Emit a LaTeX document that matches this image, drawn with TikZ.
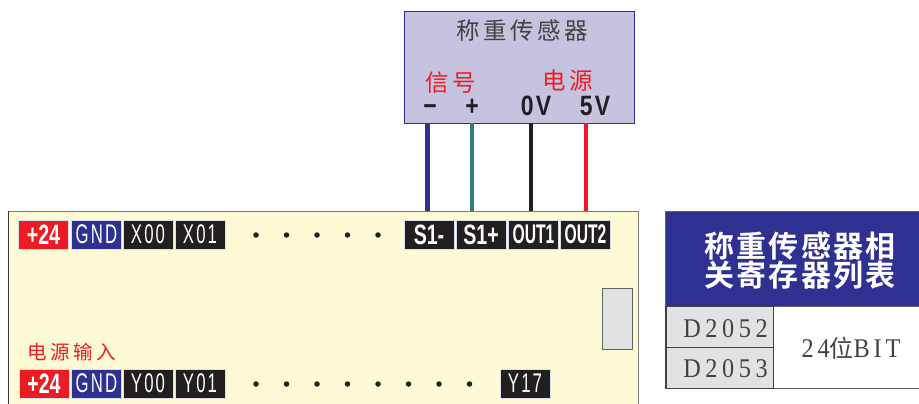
\documentclass[tikz,border=0pt]{standalone}
\usepackage{fontspec}
\setmainfont{Liberation Sans}
\newfontfamily\cjk{Noto Sans CJK SC}
\newfontfamily\cjkl[LetterSpace=15]{Noto Sans CJK SC}
\newfontfamily\cjkb[LetterSpace=8]{Noto Sans CJK SC Bold}
\newfontfamily\narrow[FakeStretch=0.62,LetterSpace=8]{Liberation Sans}
\newfontfamily\narrowb[FakeStretch=0.7]{Liberation Sans Bold}
\newfontfamily\narrowo[FakeStretch=0.58]{Liberation Sans Bold}
\newfontfamily\wideb[FakeStretch=0.82,LetterSpace=8]{Liberation Sans Bold}
\newfontfamily\serifs[FakeStretch=0.9,LetterSpace=14]{Liberation Serif}
\newfontfamily\serifc[FakeStretch=0.9,LetterSpace=17]{Liberation Serif}
\definecolor{navy}{HTML}{2E3192}
\definecolor{redc}{HTML}{ED1C24}
\definecolor{inkc}{HTML}{231F20}
\definecolor{boardc}{HTML}{FFFAD6}
\definecolor{lav}{HTML}{C5C3E0}
\definecolor{greyc}{HTML}{E1E2E4}
\definecolor{tealc}{HTML}{2A8272}
\definecolor{edgec}{HTML}{D9DEE8}
\tikzset{
 px/.style={anchor=north west,inner sep=0,outer sep=0},
 term/.style={anchor=center,inner sep=0,outer sep=0,minimum width=50,minimum height=29,draw=edgec,line width=0.8,text=white},
 blackterm/.style={term,fill=inkc},
 lbl/.style={inner sep=0,outer sep=0,anchor=center},
 wire/.style={line width=4},
 pindot/.style={circle,fill=inkc,inner sep=0,minimum size=5.5},
 termthin/.style={font=\narrow\fontsize{27}{27}\selectfont},
 termbold/.style={font=\narrowb\fontsize{28}{28}\selectfont},
 termout/.style={font=\narrowo\fontsize{27}{27}\selectfont},
 pinlbl/.style={inner sep=0,outer sep=0,anchor=base,text=inkc,font=\wideb\fontsize{28}{28}\selectfont},
 senslbl/.style={lbl,font=\cjkl\fontsize{23.5}{24}\selectfont},
 headlbl/.style={lbl,text=white,font=\cjkb\fontsize{30}{30}\selectfont},
 cell/.style={px,draw=inkc!85,line width=1.1,fill=greyc,minimum width=108,minimum height=41},
 celltxt/.style={lbl,font=\serifc\fontsize{27}{27}\selectfont,text=inkc!85}
}
\begin{document}
\begin{tikzpicture}[x=1pt,y=-1pt]
\useasboundingbox (0,0) rectangle (919,404);
\fill[white] (0,0) rectangle (919,404);
% sensor
\node[px,draw=navy,line width=1,fill=lav,minimum width=230,minimum height=111] (sensor) at (404,12) {};
\node[senslbl,text=inkc!85] (title) at (522,31) {称重传感器};
\node[senslbl,text=redc] (sig) at (451,83) {信号};
\node[senslbl,text=redc] (pwr) at (568,81) {电源};
\node[pinlbl] (minus) at (430,115) {−};
\node[pinlbl] (plus) at (472,115) {+};
\node[pinlbl] (zv) at (536,116) {0V};
\node[pinlbl] (fv) at (595,116) {5V};
% board
\node[px,draw=inkc!60,line width=0.9,fill=boardc,minimum width=630,minimum height=200] (board) at (8,211) {};
\draw[inkc!90,line width=1] (board.north west) -- (8,404);
% wires
\coordinate (a1) at (427,123); \coordinate (a2) at (427,211);
\coordinate (b1) at (472,123); \coordinate (b2) at (472,211);
\coordinate (c1) at (531,123); \coordinate (c2) at (531,211);
\coordinate (d1) at (586,123); \coordinate (d2) at (586,211);
\draw[wire,navy,line width=5] (a1) -- (a2);
\draw[wire,tealc] (b1) -- (b2);
\draw[wire,inkc] (c1) -- (c2);
\draw[wire,redc] (d1) -- (d2);
% top terminals
\node[term,fill=redc,termbold] (t1) at (43.5,234.5) {+24};
\node[term,fill=navy,termthin] (t2) at (96.5,234.5) {GND};
\node[blackterm,termthin] (t3) at (148,234.5) {X00};
\node[blackterm,termthin] (t4) at (200,234.5) {X01};
\node[blackterm,termbold] (t5) at (429,234.5) {S1-};
\node[blackterm,termbold] (t6) at (481,234.5) {S1+};
\node[blackterm,termout] (t7) at (533.5,234.5) {OUT1};
\node[blackterm,termout] (t8) at (585.5,234.5) {OUT2};
% bottom terminals
\node[lbl,text=redc,font=\cjk\fontsize{19.5}{20}\selectfont] (inp) at (72,352) {电\hspace{3.5pt}源\hspace{3.5pt}输\hspace{3.5pt}入};
\node[term,fill=redc,termbold] (b1t) at (44,383.5) {+24};
\node[term,fill=navy,termthin] (b2t) at (96.5,383.5) {GND};
\node[blackterm,termthin] (b3t) at (148,383.5) {Y00};
\node[blackterm,termthin] (b4t) at (200,383.5) {Y01};
\node[blackterm,termthin] (b5t) at (525,383.5) {Y17};
% dots
\foreach \i/\x in {1/256,2/286.5,3/317,4/347.5,5/378}
  \node[pindot] (dt\i) at (\x,235) {};
\foreach \i/\x in {1/256,2/286.5,3/317,4/347.5,5/378,6/408.5,7/439,8/469.5}
  \node[pindot] (db\i) at (\x,384) {};
% grey
\node[px,draw=inkc!70,line width=0.9,fill=greyc,minimum width=30,minimum height=61] (slot) at (602,288) {};
% table
\node[px,draw=inkc!70,line width=0.8,fill=navy,minimum width=260,minimum height=95] (head) at (665,211) {};
\node[headlbl] (h1) at (800,246) {称重传感器相};
\node[headlbl] (h2) at (800,275) {关寄存器列表};
\node[cell] (c52) at (666,306.5) {};
\node[cell] (c53) at (666,347.5) {};
\node[celltxt] (c52t) at (725.5,328.5) {D2052};
\node[celltxt] (c53t) at (725.5,369) {D2053};
\node[px,fill=white,minimum width=146,minimum height=81] (bitc) at (774,307) {};
\draw[inkc!70,line width=1.5] (c53.south east) -- (919,388.5);
\node[lbl,text=inkc!85,font=\serifs\fontsize{27}{27}\selectfont] (bit) at (851,348) {24{\cjk\fontsize{24}{24}\selectfont 位}BIT};
\end{tikzpicture}
\end{document}
